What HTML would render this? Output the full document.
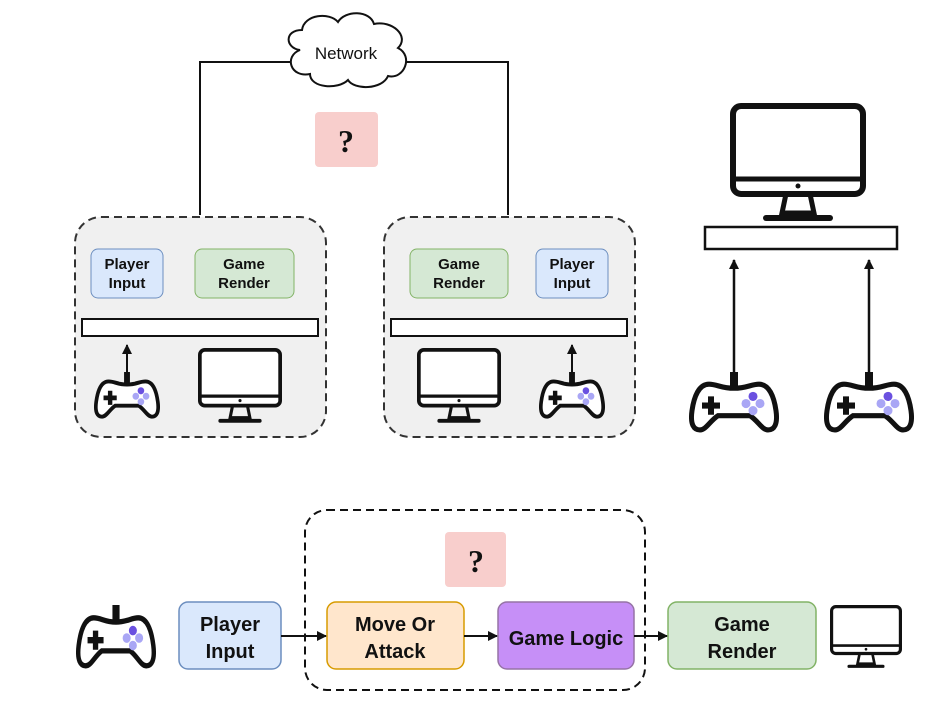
<!DOCTYPE html>
<html><head><style>body{margin:0;background:#fff}svg{display:block}text{font-family:"Liberation Sans",sans-serif;font-weight:bold;fill:#111;text-anchor:middle}</style></head><body>
<svg width="946" height="713" viewBox="0 0 946 713" xmlns="http://www.w3.org/2000/svg">
<defs>
<symbol id="pad" viewBox="0 0 90 60" preserveAspectRatio="none">
<rect x="41" y="0" width="8" height="14" fill="#111"/>
<path d="M20,12 C10,12 5,24 3,38 C1,52 5,57 11,57 C17,57 21,48 29,43 L61,43 C69,48 73,57 79,57 C85,57 89,52 87,38 C85,24 80,12 70,12 C62,12 58,16 45,16 C32,16 28,12 20,12 Z" fill="#fff" stroke="#111" stroke-width="5"/>
<path d="M19,24 h6 v6 h6 v6 h-6 v6 h-6 v-6 h-6 v-6 h6z" fill="#111"/>
<circle cx="64" cy="24" r="4.5" fill="#6a50e0"/>
<circle cx="57" cy="31" r="4.5" fill="#a9a6f5"/>
<circle cx="71" cy="31" r="4.5" fill="#a9a6f5"/>
<circle cx="64" cy="38" r="4.5" fill="#a9a6f5"/>
</symbol>
<symbol id="mon" viewBox="0 0 136 120" preserveAspectRatio="none">
<rect x="3" y="3" width="130" height="88" rx="8" fill="#fff" stroke="#111" stroke-width="6"/>
<line x1="3" y1="76" x2="133" y2="76" stroke="#111" stroke-width="5"/>
<circle cx="68" cy="83" r="2.5" fill="#111"/>
<path d="M56,91 L52,110 L84,110 L80,91" fill="none" stroke="#111" stroke-width="5"/>
<line x1="36" y1="115" x2="100" y2="115" stroke="#111" stroke-width="6" stroke-linecap="round"/>
</symbol>
<marker id="ar" markerWidth="10" markerHeight="10" refX="9" refY="5" orient="auto" markerUnits="userSpaceOnUse"><path d="M0,0 L10,5 L0,10 z" fill="#111"/></marker>
</defs>
<path d="M200,215 V62 H290 M406,62 H508 V215" fill="none" stroke="#111" stroke-width="2"/>
<path d="M300,50 C285,48 284,30 302,30 C304,14 330,12 338,22 C345,10 370,10 374,24 C392,20 410,36 398,48 C414,56 404,80 388,76 C382,90 354,90 348,80 C338,90 310,88 310,74 C290,78 284,56 300,50 Z" fill="#fff" stroke="#111" stroke-width="2"/>
<text x="346" y="59" font-size="17" style="font-weight:normal">Network</text>
<rect x="315" y="112" width="63" height="55" rx="4" fill="#f8cecc"/>
<text x="346" y="152" font-size="32" style="font-family:'Liberation Serif',serif">?</text>
<rect x="75" y="217" width="251" height="220" rx="26" fill="#f0f0f0" stroke="#333" stroke-width="2" stroke-dasharray="8,5"/>
<rect x="91" y="249" width="72" height="49" rx="7" fill="#dae8fc" stroke="#6c8ebf"/>
<text x="127" y="269" font-size="15">Player</text><text x="127" y="288" font-size="15">Input</text>
<rect x="195" y="249" width="99" height="49" rx="7" fill="#d5e8d4" stroke="#82b366"/>
<text x="244" y="269" font-size="15">Game</text><text x="244" y="288" font-size="15">Render</text>
<rect x="82" y="319" width="236" height="17" fill="#fff" stroke="#111" stroke-width="2"/>
<line x1="127" y1="378" x2="127" y2="345" stroke="#111" stroke-width="2" marker-end="url(#ar)"/>
<use href="#pad" x="94" y="372" width="66" height="47"/>
<use href="#mon" x="198" y="348" width="84" height="76"/>
<rect x="384" y="217" width="251" height="220" rx="26" fill="#f0f0f0" stroke="#333" stroke-width="2" stroke-dasharray="8,5"/>
<rect x="410" y="249" width="98" height="49" rx="7" fill="#d5e8d4" stroke="#82b366"/>
<text x="459" y="269" font-size="15">Game</text><text x="459" y="288" font-size="15">Render</text>
<rect x="536" y="249" width="72" height="49" rx="7" fill="#dae8fc" stroke="#6c8ebf"/>
<text x="572" y="269" font-size="15">Player</text><text x="572" y="288" font-size="15">Input</text>
<rect x="391" y="319" width="236" height="17" fill="#fff" stroke="#111" stroke-width="2"/>
<line x1="572" y1="378" x2="572" y2="345" stroke="#111" stroke-width="2" marker-end="url(#ar)"/>
<use href="#pad" x="539" y="372" width="66" height="47"/>
<use href="#mon" x="417" y="348" width="84" height="76"/>
<use href="#mon" x="730" y="103" width="136" height="120"/>
<rect x="705" y="227" width="192" height="22" fill="#fff" stroke="#111" stroke-width="2.5"/>
<line x1="734" y1="378" x2="734" y2="260" stroke="#111" stroke-width="2.5" marker-end="url(#ar)"/>
<line x1="869" y1="378" x2="869" y2="260" stroke="#111" stroke-width="2.5" marker-end="url(#ar)"/>
<use href="#pad" x="689" y="372" width="90" height="61"/>
<use href="#pad" x="824" y="372" width="90" height="61"/>
<rect x="305" y="510" width="340" height="180" rx="22" fill="none" stroke="#111" stroke-width="2" stroke-dasharray="8,5"/>
<rect x="445" y="532" width="61" height="55" rx="4" fill="#f8cecc"/>
<text x="476" y="572" font-size="32" style="font-family:'Liberation Serif',serif">?</text>
<use href="#pad" x="76" y="605" width="80" height="64"/>
<rect x="179" y="602" width="102" height="67" rx="9" fill="#dae8fc" stroke="#6c8ebf" stroke-width="1.5"/>
<text x="230" y="631" font-size="20">Player</text><text x="230" y="658" font-size="20">Input</text>
<rect x="327" y="602" width="137" height="67" rx="9" fill="#ffe6cc" stroke="#d79b00" stroke-width="1.5"/>
<text x="395" y="631" font-size="20">Move Or</text><text x="395" y="658" font-size="20">Attack</text>
<rect x="498" y="602" width="136" height="67" rx="9" fill="#c68ff7" stroke="#9673a6" stroke-width="1.5"/>
<text x="566" y="645" font-size="20">Game Logic</text>
<rect x="668" y="602" width="148" height="67" rx="9" fill="#d5e8d4" stroke="#82b366" stroke-width="1.5"/>
<text x="742" y="631" font-size="20">Game</text><text x="742" y="658" font-size="20">Render</text>
<use href="#mon" x="830" y="605" width="72" height="64"/>
<line x1="281" y1="636" x2="326" y2="636" stroke="#111" stroke-width="2" marker-end="url(#ar)"/>
<line x1="464" y1="636" x2="497" y2="636" stroke="#111" stroke-width="2" marker-end="url(#ar)"/>
<line x1="634" y1="636" x2="667" y2="636" stroke="#111" stroke-width="2" marker-end="url(#ar)"/>
</svg>
</body></html>
